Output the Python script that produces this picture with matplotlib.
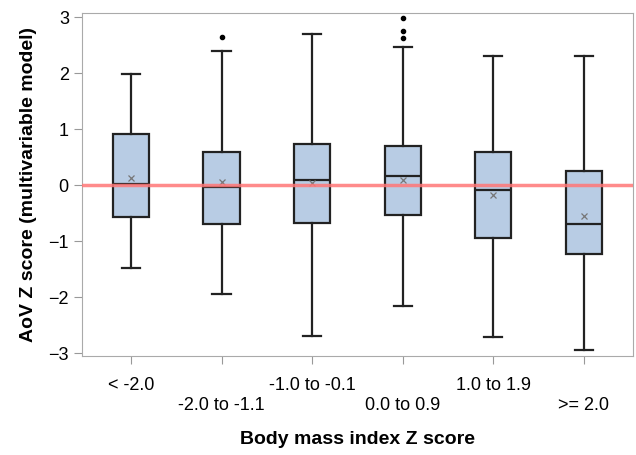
import matplotlib
matplotlib.use('Agg')
import matplotlib.pyplot as plt

plt.rcParams['font.family'] = ['Liberation Sans', 'DejaVu Sans']

groups = ['< -2.0', '-2.0 to -1.1', '-1.0 to -0.1', '0.0 to 0.9', '1.0 to 1.9', '>= 2.0']
whislo = [-1.48, -1.95, -2.70, -2.16, -2.71, -2.94]
q1 = [-0.57, -0.70, -0.67, -0.54, -0.95, -1.23]
med = [0.02, -0.04, 0.09, 0.17, -0.08, -0.70]
q3 = [0.92, 0.59, 0.73, 0.70, 0.59, 0.25]
whishi = [1.98, 2.39, 2.69, 2.46, 2.30, 2.31]
means = [0.12, 0.06, 0.04, 0.09, -0.18, -0.55]
fliers = [[], [2.64], [], [2.63, 2.75, 2.99], [], []]

stats = []
for i in range(len(groups)):
    stats.append(dict(label=groups[i], whislo=whislo[i], q1=q1[i], med=med[i],
                      q3=q3[i], whishi=whishi[i], mean=means[i], fliers=fliers[i]))

fig = plt.figure(figsize=(6.36, 4.55), dpi=100)
ax = fig.add_axes([0.129, 0.2176, 0.866, 0.7534])

ax.axhline(0, color='#ff7777', lw=2.5, alpha=0.85, zorder=3)

ax.bxp(stats, positions=range(1, 7), widths=0.4, patch_artist=True, showmeans=True,
       boxprops=dict(facecolor='#b8cce4', edgecolor='#222222', linewidth=1.6),
       medianprops=dict(color='#222222', linewidth=1.6),
       whiskerprops=dict(color='#222222', linewidth=1.6),
       capprops=dict(color='#222222', linewidth=1.6),
       meanprops=dict(marker='x', markeredgecolor='#777777', markersize=5, markeredgewidth=0.9),
       flierprops=dict(marker='o', markerfacecolor='black', markeredgecolor='black', markersize=3),
       zorder=2)

ax.set_xlim(0.46, 6.54)
ax.set_ylim(-3.05, 3.07)
ax.set_yticks([-3, -2, -1, 0, 1, 2, 3])
ax.set_xticks(range(1, 7))
ax.set_xticklabels([g if i % 2 == 0 else '\n' + g for i, g in enumerate(groups)],
                   linespacing=1.25)
ax.tick_params(axis='both', labelsize=13, color='#999999', length=6)
ax.tick_params(axis='x', pad=9)
for s in ax.spines.values():
    s.set_color('#aaaaaa')

ax.set_xlabel('Body mass index Z score', fontsize=14, fontweight='bold', labelpad=12)
ax.set_ylabel('AoV Z score (multivariable model)', fontsize=14, fontweight='bold', labelpad=8)

fig.savefig('out.png', dpi=100)
